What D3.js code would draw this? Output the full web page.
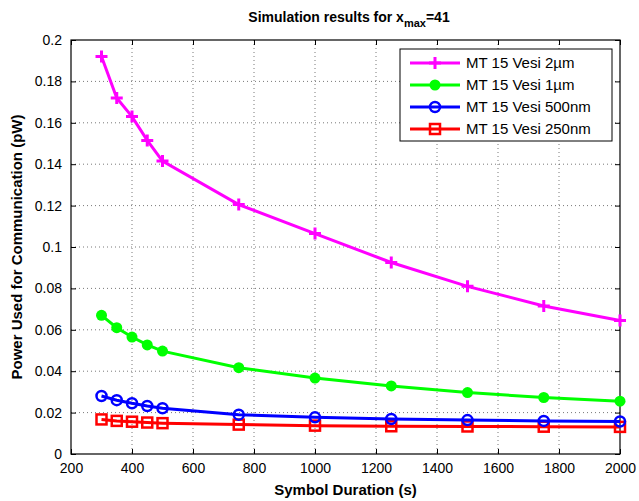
<!DOCTYPE html>
<html>
<head>
<meta charset="utf-8">
<script src="https://cdn.jsdelivr.net/npm/d3@7"></script>
<style>
  body { margin: 0; background: #fff; }
  svg { font-family: "Liberation Sans", Arial, sans-serif; }
</style>
</head>
<body>
<div id="chart"></div>
<script>
const durations = [300, 350, 400, 450, 500, 750, 1000, 1250, 1500, 1750, 2000];
const vesi2um = [0.192, 0.172, 0.163, 0.1515, 0.1415, 0.1205, 0.1065, 0.0925, 0.081, 0.0715, 0.0645];
const vesi1um = [0.067, 0.061, 0.0565, 0.0527, 0.0497, 0.0417, 0.0367, 0.0329, 0.0297, 0.0273, 0.0255];
const vesi500nm = [0.028, 0.026, 0.0245, 0.0232, 0.0221, 0.019, 0.0177, 0.0169, 0.0164, 0.016, 0.0157];
const vesi250nm = [0.0167, 0.016, 0.0156, 0.0152, 0.0149, 0.0142, 0.0137, 0.0134, 0.0133, 0.0132, 0.0131];
const xTicks = [200, 400, 600, 800, 1000, 1200, 1400, 1600, 1800, 2000];
const yTicks = [0, 0.02, 0.04, 0.06, 0.08, 0.1, 0.12, 0.14, 0.16, 0.18, 0.2];

const series = [
  { name: "MT 15 Vesi 2\u00b5m", values: vesi2um, color: "#ff00ff", marker: "plus" },
  { name: "MT 15 Vesi 1\u00b5m", values: vesi1um, color: "#00ff00", marker: "dot" },
  { name: "MT 15 Vesi 500nm", values: vesi500nm, color: "#0000ff", marker: "circle" },
  { name: "MT 15 Vesi 250nm", values: vesi250nm, color: "#ff0000", marker: "square" }
];

const W = 639, H = 501;
const M = { top: 40, right: 19, bottom: 47, left: 71 };
const iw = W - M.left - M.right, ih = H - M.top - M.bottom;

const svg = d3.select('#chart').append('svg').attr('width', W).attr('height', H);
const g = svg.append('g').attr('transform', `translate(${M.left},${M.top})`);

const x = d3.scaleLinear().domain([200, 2000]).range([0, iw]);
const y = d3.scaleLinear().domain([0, 0.2]).range([ih, 0]);

// grid
g.selectAll('.gx').data(xTicks.slice(1, -1)).enter().append('line')
  .attr('x1', d => x(d)).attr('x2', d => x(d)).attr('y1', 0).attr('y2', ih)
  .attr('stroke', '#555').attr('stroke-width', 0.8).attr('stroke-dasharray', '1,3');
g.selectAll('.gy').data(yTicks.slice(1, -1)).enter().append('line')
  .attr('x1', 0).attr('x2', iw).attr('y1', d => y(d)).attr('y2', d => y(d))
  .attr('stroke', '#555').attr('stroke-width', 0.8).attr('stroke-dasharray', '1,3');

// axes (ticks inward, on all sides)
const fmtY = d => d === 0 ? '0' : String(+d.toFixed(2));
const ax = [
  g.append('g').attr('transform', `translate(0,${ih})`).call(d3.axisBottom(x).tickValues(xTicks).tickSizeInner(-5).tickSizeOuter(0).tickPadding(9).tickFormat(d3.format('d'))),
  g.append('g').call(d3.axisTop(x).tickValues(xTicks).tickSizeInner(-5).tickSizeOuter(0).tickFormat('')),
  g.append('g').call(d3.axisLeft(y).tickValues(yTicks).tickSizeInner(-5).tickSizeOuter(0).tickPadding(9).tickFormat(fmtY)),
  g.append('g').attr('transform', `translate(${iw},0)`).call(d3.axisRight(y).tickValues(yTicks).tickSizeInner(-5).tickSizeOuter(0).tickFormat(''))
];
ax.forEach(a => {
  a.select('.domain').remove();
  a.selectAll('line').attr('stroke', '#000');
  a.selectAll('text').attr('font-size', 14).attr('fill', '#000').attr('font-family', '"Liberation Sans", Arial, sans-serif');
});
g.append('rect').attr('width', iw).attr('height', ih).attr('fill', 'none').attr('stroke', '#000').attr('stroke-width', 1.2);

// lines
const line = d3.line().x((d, i) => x(durations[i])).y(d => y(d));

function drawMarker(sel, type, color) {
  if (type === 'plus') {
    sel.append('path').attr('d', 'M-6,0H6M0,-6V6').attr('stroke', color).attr('stroke-width', 3).attr('fill', 'none');
  } else if (type === 'dot') {
    sel.append('circle').attr('r', 5.5).attr('fill', color);
  } else if (type === 'circle') {
    sel.append('circle').attr('r', 5).attr('fill', 'none').attr('stroke', color).attr('stroke-width', 2.5);
  } else {
    sel.append('rect').attr('x', -5).attr('y', -5).attr('width', 10).attr('height', 10)
      .attr('fill', 'none').attr('stroke', color).attr('stroke-width', 2.5);
  }
}

series.slice().reverse().forEach(s => {
  g.append('path').datum(s.values).attr('d', line)
    .attr('fill', 'none').attr('stroke', s.color).attr('stroke-width', 3);
  s.values.forEach((v, i) => {
    const m = g.append('g').attr('transform', `translate(${x(durations[i])},${y(v)})`);
    drawMarker(m, s.marker, s.color);
  });
});

// legend
const lg = svg.append('g').attr('transform', 'translate(400,49)');
lg.append('rect').attr('width', 212).attr('height', 92).attr('fill', '#fff').attr('stroke', '#000').attr('stroke-width', 1);
series.forEach((s, i) => {
  const row = lg.append('g').attr('transform', `translate(0,${14 + i * 22})`);
  row.append('line').attr('x1', 10).attr('x2', 60).attr('stroke', s.color).attr('stroke-width', 3);
  drawMarker(row.append('g').attr('transform', 'translate(35,0)'), s.marker, s.color);
  row.append('text').attr('x', 66).attr('y', 5).attr('font-size', 15).attr('fill', '#000').text(s.name);
});

// title
const title = svg.append('text').attr('x', 349).attr('y', 22).attr('text-anchor', 'middle')
  .attr('font-size', 14).attr('font-weight', 'bold').attr('fill', '#000');
title.append('tspan').text('Simulation results for x');
title.append('tspan').attr('font-size', 11).attr('dy', 5).text('max');
title.append('tspan').attr('dy', -5).text('=41');

// axis labels
svg.append('text').attr('x', M.left + iw / 2).attr('y', 495).attr('text-anchor', 'middle')
  .attr('font-size', 15).attr('font-weight', 'bold').text('Symbol Duration (s)');
svg.append('text').attr('transform', `translate(22,${M.top + ih / 2}) rotate(-90)`).attr('text-anchor', 'middle')
  .attr('font-size', 15).attr('font-weight', 'bold').text('Power Used for Communication (pW)');
</script>
</body>
</html>
